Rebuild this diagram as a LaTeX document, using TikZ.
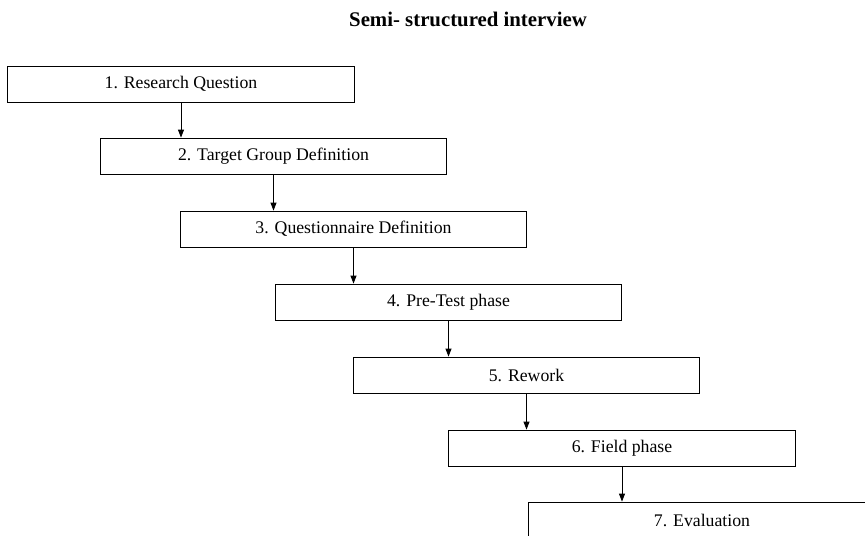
\documentclass[tikz,border=0pt]{standalone}
\usepackage{fontspec}
\setmainfont{Liberation Serif}
\usetikzlibrary{arrows.meta}

\begin{document}
\begin{tikzpicture}[x=0.75pt, y=-0.75pt,
    stage/.style={draw, line width=0.6pt, minimum width=260pt, minimum height=27pt,
      inner sep=0pt, font=\fontsize{13.3}{15}\selectfont},
    >={Triangle[length=6pt,width=4.5pt]}, line width=0.6pt]
      \useasboundingbox (0,0) rectangle (865,536);
      \clip (0,0) rectangle (865,536);

      \node [font=\bfseries\fontsize{15.6}{18}\selectfont] (title) at (468, 19) {Semi- structured interview};

      \node [stage] (q1) at (181, 84) {1. Research Question};
      \node [stage] (q2) at (273.5, 156) {2. Target Group Definition};
      \node [stage] (q3) at (353.5, 229) {3. Questionnaire Definition};
      \node [stage] (q4) at (448.5, 302) {4. Pre-Test phase};
      \node [stage] (q5) at (526.5, 375) {5. Rework};
      \node [stage] (q6) at (622, 448) {6. Field phase};
      \node [stage] (q7) at (702, 520) {7. Evaluation};

      \draw [->] (q1.south) to (q1.south |- q2.north);
      \draw [->] (q2.south) to (q2.south |- q3.north);
      \draw [->] (q3.south) to (q3.south |- q4.north);
      \draw [->] (q4.south) to (q4.south |- q5.north);
      \draw [->] (q5.south) to (q5.south |- q6.north);
      \draw [->] (q6.south) to (q6.south |- q7.north);
    \end{tikzpicture}
\end{document}
